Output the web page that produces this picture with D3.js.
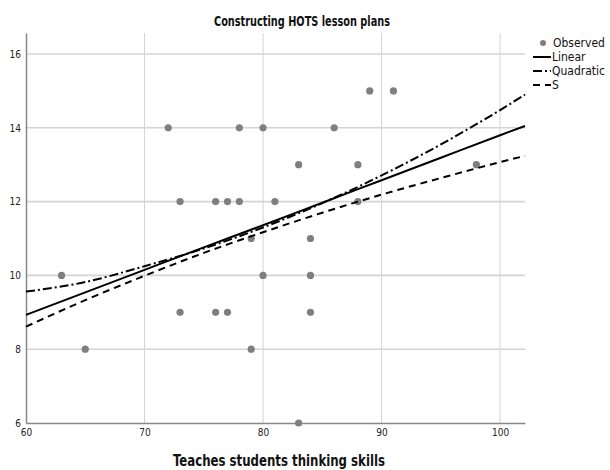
<!DOCTYPE html>
<html>
<head>
<meta charset="utf-8">
<script src="https://cdn.jsdelivr.net/npm/d3@7"></script>
<style>
  body { margin: 0; background: #fff; }
  text { font-family: "Liberation Sans Narrow", "DejaVu Sans Condensed", "Open Sans", sans-serif; }
</style>
</head>
<body>
<div id="chart"></div>
<script>
// observed scores (x = Teaches students thinking skills, y = Constructing HOTS lesson plans)
var obsX = [63, 65, 72, 73, 73, 76, 76, 77, 77, 78, 78, 79, 79, 80, 80, 81, 83, 83, 84, 84, 84, 86, 88, 88, 89, 91, 98];
var obsY = [10, 8, 14, 12, 9, 12, 9, 12, 9, 14, 12, 11, 8, 14, 10, 12, 13, 6, 11, 10, 9, 14, 13, 12, 15, 15, 13];

// fitted curves
var fitX = [60, 65, 70, 75, 80, 85, 90, 95, 100, 102.1];
var linearY = [8.93, 9.54, 10.15, 10.76, 11.36, 11.97, 12.58, 13.19, 13.80, 14.05];
var quadY = [9.56, 9.82, 10.25, 10.73, 11.30, 11.96, 12.71, 13.55, 14.48, 14.90];
var sY = [8.61, 9.33, 9.99, 10.61, 11.17, 11.70, 12.19, 12.64, 13.07, 13.24];

var xTicks = [60, 70, 80, 90, 100];
var yTicks = [6, 8, 10, 12, 14, 16];
var legendLabels = ["Observed", "Linear", "Quadratic", "S"];

var svgWidth = 610;
var svgHeight = 470;
var margin = { top: 33, right: 85, bottom: 47, left: 26 };
var width = svgWidth - margin.left - margin.right;
var height = svgHeight - margin.top - margin.bottom;

var svg = d3.select("#chart")
  .append("svg")
  .attr("width", svgWidth)
  .attr("height", svgHeight);

var chartGroup = svg.append("g")
  .attr("transform", `translate(${margin.left}, ${margin.top})`);

var xScale = d3.scaleLinear().domain([60, 102.1]).range([0, width]);
var yScale = d3.scaleLinear().domain([6, 16.57]).range([height, 0]);

// gridlines
chartGroup.selectAll(".vgrid")
  .data(xTicks.slice(1))
  .enter()
  .append("line")
  .attr("x1", d => xScale(d))
  .attr("x2", d => xScale(d))
  .attr("y1", 0)
  .attr("y2", height)
  .attr("stroke", "#d4d4d4")
  .attr("stroke-width", 1);

chartGroup.selectAll(".hgrid")
  .data(yTicks.slice(1))
  .enter()
  .append("line")
  .attr("x1", 0)
  .attr("x2", width)
  .attr("y1", d => yScale(d))
  .attr("y2", d => yScale(d))
  .attr("stroke", "#d4d4d4")
  .attr("stroke-width", 1.6);

// axes
var bottomAxis = d3.axisBottom(xScale).tickValues(xTicks).tickSize(0).tickPadding(6);
var leftAxis = d3.axisLeft(yScale).tickValues(yTicks).tickSize(0).tickPadding(5);

var xAxis = chartGroup.append("g")
  .attr("transform", `translate(0, ${height})`)
  .call(bottomAxis);
var yAxis = chartGroup.append("g").call(leftAxis);

[xAxis, yAxis].forEach(function(ax) {
  ax.select(".domain").attr("stroke", "#888").attr("stroke-width", 1.5);
  ax.selectAll("text")
    .attr("font-family", "'Liberation Sans Narrow', 'DejaVu Sans Condensed', sans-serif")
    .attr("font-size", "10px")
    .attr("fill", "#222");
});

// observed points
chartGroup.selectAll("circle")
  .data(obsX)
  .enter()
  .append("circle")
  .attr("cx", d => xScale(d))
  .attr("cy", (d, i) => yScale(obsY[i]))
  .attr("r", 3.6)
  .attr("fill", "#7f7f7f");

// fitted lines
var line = d3.line()
  .x((d, i) => xScale(fitX[i]))
  .y(d => yScale(d))
  .curve(d3.curveMonotoneX);

var fits = [
  { values: linearY, dash: null },
  { values: quadY, dash: "9,3,2,3" },
  { values: sY, dash: "7,5" }
];

chartGroup.selectAll(".fit")
  .data(fits)
  .enter()
  .append("path")
  .attr("d", d => line(d.values))
  .attr("fill", "none")
  .attr("stroke", "#000")
  .attr("stroke-width", 2)
  .attr("stroke-dasharray", d => d.dash);

// title and axis label (squeezed to mimic the condensed original face)
svg.append("text")
  .attr("x", 302)
  .attr("y", 26)
  .attr("text-anchor", "middle")
  .attr("font-size", "14px")
  .attr("font-weight", "bold")
  .attr("fill", "#111")
  .attr("textLength", 176)
  .attr("lengthAdjust", "spacingAndGlyphs")
  .text("Constructing HOTS lesson plans");

svg.append("text")
  .attr("x", 279)
  .attr("y", 466)
  .attr("text-anchor", "middle")
  .attr("font-size", "15px")
  .attr("font-weight", "bold")
  .attr("fill", "#111")
  .attr("textLength", 212)
  .attr("lengthAdjust", "spacingAndGlyphs")
  .text("Teaches students thinking skills");

// legend
var legend = svg.append("g").attr("transform", "translate(532, 43)");
legendLabels.forEach(function(label, i) {
  var row = legend.append("g").attr("transform", `translate(0, ${i * 14})`);
  if (i === 0) {
    row.append("circle").attr("cx", 11).attr("cy", 0).attr("r", 3).attr("fill", "#7f7f7f");
  } else {
    row.append("line")
      .attr("x1", 1).attr("x2", 19).attr("y1", 0).attr("y2", 0)
      .attr("stroke", "#000").attr("stroke-width", 2)
      .attr("stroke-dasharray", fits[i - 1].dash);
  }
  row.append("text")
    .attr("x", i === 0 ? 21 : 20)
    .attr("y", 4)
    .attr("font-size", "12px")
    .attr("fill", "#111")
    .text(label);
});
</script>
</body>
</html>
